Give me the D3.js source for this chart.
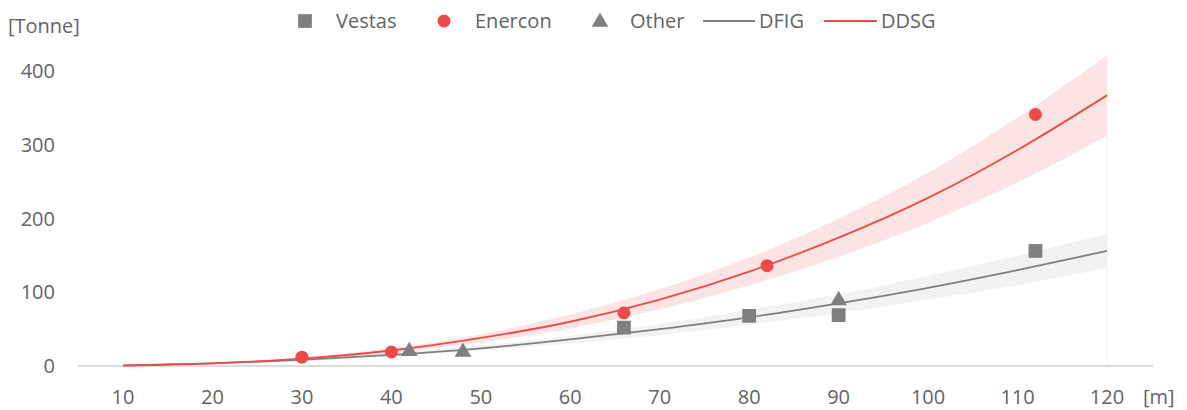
<!DOCTYPE html>
<html>
<head>
<meta charset="utf-8">
<script src="https://cdn.jsdelivr.net/npm/d3@7"></script>
<style>
  body { margin: 0; background: #fff; }
  text { font-family: "Open Sans", "Noto Sans", sans-serif; fill: #636363; font-size: 20px; }
</style>
</head>
<body>
<div id="chart"></div>
<script>
// rotor diameter [m] vs nacelle/generator mass [Tonne]
const vestas = [[66, 52], [80, 68], [90, 69], [112, 156]];
const enercon = [[30, 12], [40, 19], [66, 72], [82, 136], [112, 341]];
const other = [[42, 20], [48, 19], [90, 89]];

// fitted curves every 10 m
const fitX = [10, 20, 30, 40, 50, 60, 70, 80, 90, 100, 110, 120];
const dfig = [0.8, 3.5, 8.3, 15, 24, 36, 50, 66, 85, 106, 130, 156];
const dfigLow = [0.7, 3, 7, 13, 21, 30.5, 42, 56, 72, 90, 110, 133];
const dfigHigh = [0.9, 4, 9.5, 17.5, 28, 41, 57, 76, 97, 122, 150, 179];
const ddsg = [0.6, 3.5, 10, 21, 38, 60, 90, 128, 174, 228, 293, 367];
const ddsgLow = [0.5, 3, 8.5, 18, 32, 51, 77, 109, 148, 194, 249, 312];
const ddsgHigh = [0.7, 4, 11.5, 24, 43, 70, 104, 147, 200, 262, 337, 421];

const xTicks = [10, 20, 30, 40, 50, 60, 70, 80, 90, 100, 110, 120];
const yTicks = [0, 100, 200, 300, 400];

const width = 1187, height = 410;
const svg = d3.select('#chart').append('svg')
  .attr('width', width)
  .attr('height', height);

const x = d3.scaleLinear().domain([10, 120]).range([123, 1107]);
const y = d3.scaleLinear().domain([0, 400]).range([366, 71]);

const grey = '#7f7f7f';
const red = '#ef4a4a';

// bands
const band = (lo, hi) => d3.area()
  .x((d, i) => x(fitX[i]))
  .y0((d, i) => y(lo[i]))
  .y1((d, i) => y(hi[i]))
  .curve(d3.curveMonotoneX)(fitX);

svg.append('path').attr('d', band(dfigLow, dfigHigh)).attr('fill', '#f2f2f2');
svg.append('path').attr('d', band(ddsgLow, ddsgHigh)).attr('fill', '#fde4e4');

// faint edge at end of fit
svg.append('line')
  .attr('x1', x(120)).attr('x2', x(120))
  .attr('y1', y(ddsgHigh[ddsgHigh.length - 1])).attr('y2', y(0))
  .attr('stroke', '#fbeeee').attr('stroke-width', 1);

// x axis line
svg.append('line')
  .attr('x1', 78).attr('x2', 1153)
  .attr('y1', y(0)).attr('y2', y(0))
  .attr('stroke', '#d0d0d0').attr('stroke-width', 1.5);

// fit lines
const line = vals => d3.line()
  .x((d, i) => x(fitX[i]))
  .y((d, i) => y(vals[i]))
  .curve(d3.curveMonotoneX)(fitX);

svg.append('path').attr('d', line(dfig)).attr('fill', 'none').attr('stroke', grey).attr('stroke-width', 1.8);
svg.append('path').attr('d', line(ddsg)).attr('fill', 'none').attr('stroke', red).attr('stroke-width', 1.8);

// markers
const sq = d3.symbol().type(d3.symbolSquare).size(190);
const tri = d3.symbol().type(d3.symbolTriangle).size(120);

svg.selectAll('.vestas')
  .data(vestas)
  .join('path')
  .attr('class', 'vestas')
  .attr('d', sq)
  .attr('transform', d => `translate(${x(d[0])},${y(d[1])})`)
  .attr('fill', grey);

svg.selectAll('.other')
  .data(other)
  .join('path')
  .attr('class', 'other')
  .attr('d', tri)
  .attr('transform', d => `translate(${x(d[0])},${y(d[1])})`)
  .attr('fill', grey);

svg.selectAll('.enercon')
  .data(enercon)
  .join('circle')
  .attr('class', 'enercon')
  .attr('cx', d => x(d[0]))
  .attr('cy', d => y(d[1]))
  .attr('r', 6.5)
  .attr('fill', red);

// tick labels
svg.selectAll('.xlab')
  .data(xTicks)
  .join('text')
  .attr('class', 'xlab')
  .attr('x', d => x(d))
  .attr('y', 404)
  .attr('text-anchor', 'middle')
  .text(d => d);

svg.selectAll('.ylab')
  .data(yTicks)
  .join('text')
  .attr('class', 'ylab')
  .attr('x', 55)
  .attr('y', d => y(d) + 7)
  .attr('text-anchor', 'end')
  .text(d => d);

svg.append('text').attr('x', 8).attr('y', 33).text('[Tonne]');
svg.append('text').attr('x', 1143).attr('y', 404).text('[m]');

// legend
const lg = svg.append('g');
lg.append('path').attr('d', sq).attr('transform', 'translate(305,21)').attr('fill', grey);
lg.append('text').attr('x', 336).attr('y', 28).text('Vestas');
lg.append('circle').attr('cx', 444).attr('cy', 21).attr('r', 6.5).attr('fill', red);
lg.append('text').attr('x', 475).attr('y', 28).text('Enercon');
lg.append('path').attr('d', tri).attr('transform', 'translate(600,22)').attr('fill', grey);
lg.append('text').attr('x', 630).attr('y', 28).text('Other');
lg.append('line').attr('x1', 703).attr('x2', 755).attr('y1', 21).attr('y2', 21).attr('stroke', grey).attr('stroke-width', 1.8);
lg.append('text').attr('x', 759).attr('y', 28).text('DFIG');
lg.append('line').attr('x1', 824).attr('x2', 877).attr('y1', 21).attr('y2', 21).attr('stroke', red).attr('stroke-width', 1.8);
lg.append('text').attr('x', 881).attr('y', 28).text('DDSG');
</script>
</body>
</html>
